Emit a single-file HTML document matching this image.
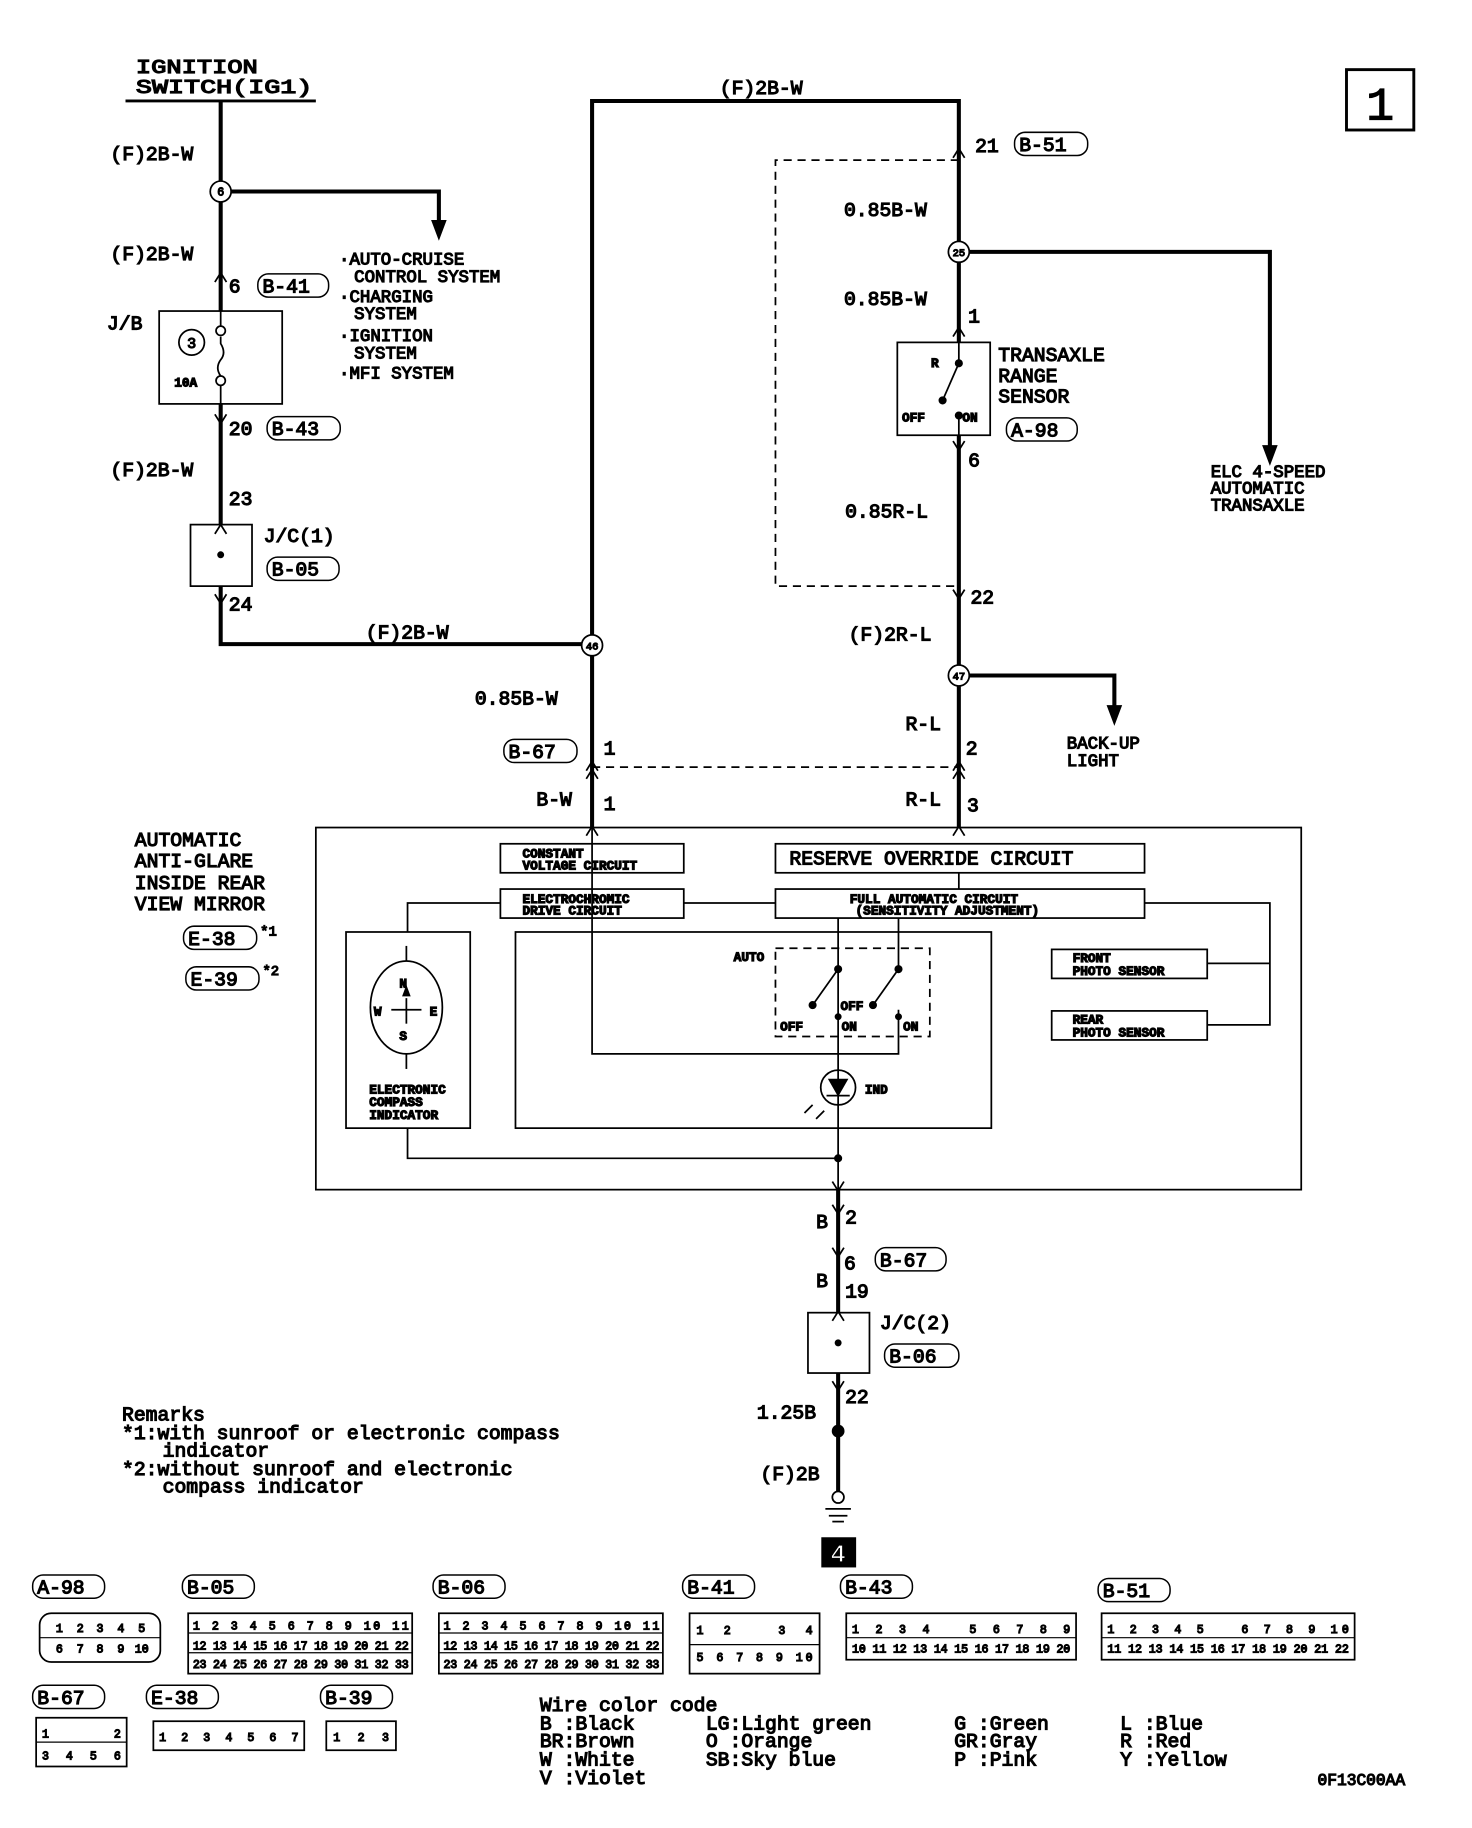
<!DOCTYPE html>
<html><head><meta charset="utf-8"><style>
html,body{margin:0;padding:0;background:#fff}
svg{display:block}
text{font-family:"Liberation Mono","DejaVu Sans Mono",monospace;fill:#000}
.t{font-size:17px}
.s{font-size:11px;font-weight:bold}
.c{font-size:10px}
</style></head><body>
<svg width="1472" height="1828" viewBox="0 0 1268 1575" xmlns="http://www.w3.org/2000/svg">
<rect width="1268" height="1575" fill="#fff"/>
<g fill="none" stroke="#000">
<!-- thick wires -->
<g stroke-width="3.5">
<line x1="190" y1="87" x2="190" y2="268"/>
<line x1="190" y1="348" x2="190" y2="452"/>
<polyline points="190,505 190,555 501,555"/>
<polyline points="510,713 510,87 826,87 826,295"/>
<line x1="826" y1="375" x2="826" y2="573"/>
<line x1="826" y1="591" x2="826" y2="713"/>
<polyline points="199,165 378,165 378,192"/>
<polyline points="835,217 1094,217 1094,386"/>
<polyline points="835,582 960,582 960,610"/>
<line x1="722" y1="1025" x2="722" y2="1131"/>
<line x1="722" y1="1183" x2="722" y2="1285"/>
</g>
<line x1="108" y1="87" x2="272" y2="87" stroke-width="2.5"/>
<!-- dashed -->
<g stroke-width="1.5" stroke-dasharray="7,5">
<polyline points="826,138 668,138 668,505 826,505"/>
<line x1="510" y1="661" x2="826" y2="661"/>
<rect x="668" y="817" width="133" height="76"/>
</g>
<!-- boxes -->
<g stroke-width="1.5">
<rect x="137" y="268" width="106" height="80"/>
<rect x="164" y="452" width="53" height="53"/>
<rect x="773" y="295" width="80" height="80"/>
<rect x="696" y="1131" width="53" height="52"/>
<rect x="272" y="713" width="849" height="312"/>
<rect x="431" y="727" width="158" height="25"/>
<rect x="668" y="727" width="318" height="25"/>
<rect x="431" y="766" width="158" height="25"/>
<rect x="668" y="766" width="318" height="25"/>
<rect x="298" y="803" width="107" height="169"/>
<rect x="444" y="803" width="410" height="169"/>
<rect x="906" y="818" width="134" height="25"/>
<rect x="906" y="871" width="134" height="25"/>
<rect x="1160" y="60" width="58" height="52" stroke-width="2.5"/>
</g>
<!-- internal thin lines -->
<g stroke-width="1.5">
<polyline points="510,713 510,908 774,908 774,870"/>
<polyline points="431,778 351,778 351,803"/>
<line x1="589" y1="778" x2="668" y2="778"/>
<line x1="826" y1="752" x2="826" y2="766"/>
<polyline points="986,778 1094,778 1094,883 1040,883"/>
<line x1="1040" y1="830" x2="1094" y2="830"/>
<polyline points="722,791 722,1025"/>
<line x1="774" y1="791" x2="774" y2="835"/>
<polyline points="351,972 351,998 722,998"/>
<line x1="722" y1="835" x2="700" y2="866"/>
<line x1="774" y1="835" x2="752" y2="866"/>
<line x1="826" y1="313" x2="812" y2="345"/>
<path d="M190,290 L190,296 q5,8 0,14 q-5,7 0,14"/>
<circle cx="190" cy="285" r="4" fill="#fff"/>
<circle cx="190" cy="328" r="4" fill="#fff"/>
<line x1="190" y1="268" x2="190" y2="281"/>
<line x1="190" y1="332" x2="190" y2="348"/>
<circle cx="165" cy="295" r="11"/>
<line x1="826" y1="295" x2="826" y2="313"/>
<line x1="826" y1="358" x2="826" y2="375"/>
<ellipse cx="350" cy="868" rx="31" ry="40"/>
<line x1="350" y1="815" x2="350" y2="828"/>
<line x1="350" y1="908" x2="350" y2="921"/>
<line x1="337" y1="870" x2="363" y2="870"/>
<line x1="350" y1="860" x2="350" y2="882"/>
<circle cx="722" cy="937" r="15"/>
<line x1="712" y1="944" x2="732" y2="944"/>
<line x1="700" y1="952" x2="693" y2="959"/>
<line x1="710" y1="957" x2="703" y2="964"/>
<circle cx="722" cy="1290" r="5" fill="#fff"/>
<line x1="711" y1="1300" x2="733" y2="1300"/>
<line x1="714" y1="1306" x2="730" y2="1306"/>
<line x1="717" y1="1311" x2="727" y2="1311"/>
<path d="M185,243 L190,235 L195,243 M185,357 L190,365 L195,357 M185,460 L190,452 L195,460 M185,512 L190,520 L195,512"/>
<path d="M821,136 L826,128 L831,136 M821,290 L826,282 L831,290 M821,380 L826,388 L831,380 M821,508 L826,516 L831,508"/>
<path d="M505,664 L510,656 L515,664 M505,671 L510,663 L515,671 M821,664 L826,656 L831,664 M821,671 L826,663 L831,671"/>
<path d="M505,720 L510,712 L515,720 M821,720 L826,712 L831,720 M717,1018 L722,1026 L727,1018 M717,1038 L722,1046 L727,1038 M717,1075 L722,1083 L727,1075 M717,1138 L722,1130 L727,1138 M717,1190 L722,1198 L727,1190"/>
</g>
<!-- filled bits -->
<g fill="#000">
<path d="M372,190 L384,190 L378,206 Z"/>
<path d="M1088,384 L1100,384 L1094,400 Z"/>
<path d="M954,608 L966,608 L960,624 Z"/>
<path d="M714,930 L730,930 L722,944 Z"/>
<path d="M347,858 L350,850 L353,858 Z"/>
<circle cx="190" cy="478" r="2.5"/><circle cx="722" cy="1157" r="2.5"/>
<circle cx="722" cy="998" r="3"/>
<circle cx="722" cy="1233" r="5"/>
<circle cx="722" cy="835" r="3"/><circle cx="774" cy="835" r="3"/>
<circle cx="700" cy="866" r="3"/><circle cx="752" cy="866" r="3"/>
<circle cx="722" cy="876" r="2.5"/><circle cx="774" cy="876" r="2.5"/>
<circle cx="826" cy="313" r="3"/><circle cx="812" cy="345" r="3"/><circle cx="826" cy="358" r="3"/>
<rect x="708" y="1325" width="29" height="25"/>
</g>
<g fill="#fff" stroke="#000" stroke-width="1.5">
<circle cx="190" cy="165" r="9"/><circle cx="510" cy="556" r="9"/>
<circle cx="826" cy="217" r="9"/><circle cx="826" cy="582" r="9"/>
</g>
<g font-size="9" text-anchor="middle">
<text x="190" y="168.5" font-size="10">6</text><text x="510" y="559.5">46</text>
<text x="826" y="220.5">25</text><text x="826" y="585.5">47</text>
</g>
<text x="1189" y="103" font-size="40" text-anchor="middle" font-family="Liberation Sans">1</text>
<text x="722" y="1346" font-size="22" text-anchor="middle" font-weight="bold" style="fill:#fff" font-family="Liberation Sans">4</text>
<text x="165" y="300" font-size="13" text-anchor="middle">3</text>
<g class="t">
<text x="117" y="63" textLength="105" lengthAdjust="spacingAndGlyphs">IGNITION</text>
<text x="117" y="80" textLength="152" lengthAdjust="spacingAndGlyphs">SWITCH(IG1)</text>
<text x="95" y="138">(F)2B-W</text>
<text x="95" y="224">(F)2B-W</text>
<text x="95" y="410">(F)2B-W</text>
<text x="315" y="550">(F)2B-W</text>
<text x="620" y="81">(F)2B-W</text>
<text x="197" y="252">6</text>
<text x="92" y="284">J/B</text>
<text x="197" y="375">20</text>
<text x="197" y="435">23</text>
<text x="227" y="467">J/C(1)</text>
<text x="197" y="526">24</text>
<text x="840" y="131">21</text>
<text x="727" y="186">0.85B-W</text>
<text x="727" y="263">0.85B-W</text>
<text x="834" y="278">1</text>
<text x="834" y="402">6</text>
<text x="728" y="446">0.85R-L</text>
<text x="836" y="520">22</text>
<text x="731" y="552">(F)2R-L</text>
<text x="780" y="629">R-L</text>
<text x="832" y="650">2</text>
<text x="780" y="694">R-L</text>
<text x="833" y="699">3</text>
<text x="409" y="607">0.85B-W</text>
<text x="520" y="650">1</text>
<text x="462" y="694">B-W</text>
<text x="520" y="698">1</text>
<text x="860" y="311">TRANSAXLE</text>
<text x="860" y="329">RANGE</text>
<text x="860" y="347">SENSOR</text>
<text x="116" y="729">AUTOMATIC</text>
<text x="116" y="747">ANTI-GLARE</text>
<text x="116" y="766">INSIDE REAR</text>
<text x="116" y="784">VIEW MIRROR</text>
<text x="703" y="1058">B</text><text x="728" y="1054">2</text>
<text x="727" y="1094">6</text>
<text x="703" y="1109">B</text><text x="728" y="1118">19</text>
<text x="758" y="1145">J/C(2)</text>
<text x="728" y="1209">22</text>
<text x="652" y="1222">1.25B</text>
<text x="655" y="1275">(F)2B</text>
<text x="680" y="745">RESERVE OVERRIDE CIRCUIT</text>
</g>
<g fill="none" stroke="#000" stroke-width="1.3">
<rect x="222" y="236" width="61" height="20" rx="9"/>
<rect x="230" y="359" width="63" height="20" rx="9"/>
<rect x="230" y="480" width="62" height="20" rx="9"/>
<rect x="874" y="114" width="63" height="20" rx="9"/>
<rect x="867" y="360" width="61" height="20" rx="9"/>
<rect x="434" y="637" width="63" height="20" rx="9"/>
<rect x="158" y="798" width="63" height="20" rx="9"/>
<rect x="160" y="833" width="63" height="20" rx="9"/>
<rect x="754" y="1075" width="61" height="20" rx="9"/>
<rect x="762" y="1158" width="64" height="20" rx="9"/>
</g>
<g class="t">
<text x="226" y="252">B-41</text><text x="234" y="375">B-43</text><text x="234" y="496">B-05</text>
<text x="878" y="130">B-51</text><text x="871" y="376">A-98</text><text x="438" y="653">B-67</text>
<text x="162" y="814">E-38</text><text x="164" y="849">E-39</text>
<text x="758" y="1091">B-67</text><text x="766" y="1174">B-06</text>
</g>
<text x="224" y="806" font-size="12">*1</text>
<text x="226" y="840" font-size="12">*2</text>
<g font-size="15">
<text x="292" y="228">·AUTO-CRUISE</text>
<text x="305" y="243">CONTROL SYSTEM</text>
<text x="292" y="260">·CHARGING</text>
<text x="305" y="275">SYSTEM</text>
<text x="292" y="294">·IGNITION</text>
<text x="305" y="309">SYSTEM</text>
<text x="292" y="326">·MFI SYSTEM</text>
<text x="1043" y="411">ELC 4-SPEED</text>
<text x="1043" y="425">AUTOMATIC</text>
<text x="1043" y="440">TRANSAXLE</text>
<text x="919" y="645">BACK-UP</text>
<text x="919" y="660">LIGHT</text>
</g>
<g class="s">
<text x="150" y="333">10A</text>
<text x="802" y="316">R</text>
<text x="777" y="363">OFF</text><text x="829" y="363">ON</text>
<text x="450" y="739">CONSTANT</text><text x="450" y="749">VOLTAGE CIRCUIT</text>
<text x="450" y="778">ELECTROCHROMIC</text><text x="450" y="788">DRIVE CIRCUIT</text>
<text x="732" y="778">FULL AUTOMATIC CIRCUIT</text><text x="737" y="788">(SENSITIVITY ADJUSTMENT)</text>
<text x="924" y="829">FRONT</text><text x="924" y="840">PHOTO SENSOR</text>
<text x="924" y="882">REAR</text><text x="924" y="893">PHOTO SENSOR</text>
<text x="632" y="828">AUTO</text>
<text x="672" y="888">OFF</text><text x="725" y="888">ON</text><text x="778" y="888">ON</text><text x="724" y="870">OFF</text>
<text x="745" y="942">IND</text>
<text x="318" y="942">ELECTRONIC</text><text x="318" y="953">COMPASS</text><text x="318" y="964">INDICATOR</text>
<text x="344" y="851">N</text><text x="344" y="896">S</text><text x="322" y="875">W</text><text x="370" y="875">E</text>
</g>
<g font-size="17">
<text x="105" y="1224">Remarks</text>
<text x="105" y="1240">*1:with sunroof or electronic compass</text>
<text x="140" y="1255">indicator</text>
<text x="105" y="1271">*2:without sunroof and electronic</text>
<text x="140" y="1286">compass indicator</text>
<text x="465" y="1474">Wire color code</text>
<text x="465" y="1490">B :Black</text><text x="465" y="1505">BR:Brown</text><text x="465" y="1521">W :White</text><text x="465" y="1537">V :Violet</text>
<text x="608" y="1490">LG:Light green</text><text x="608" y="1505">O :Orange</text><text x="608" y="1521">SB:Sky blue</text>
<text x="822" y="1490">G :Green</text><text x="822" y="1505">GR:Gray</text><text x="822" y="1521">P :Pink</text>
<text x="965" y="1490">L :Blue</text><text x="965" y="1505">R :Red</text><text x="965" y="1521">Y :Yellow</text>
</g>
<text x="1135" y="1538" font-size="14">0F13C00AA</text>
<g fill="none" stroke="#000" stroke-width="1.3">
<rect x="28" y="1357" width="62" height="20" rx="9"/><rect x="157" y="1357" width="62" height="20" rx="9"/>
<rect x="373" y="1357" width="62" height="20" rx="9"/><rect x="588" y="1357" width="62" height="20" rx="9"/>
<rect x="724" y="1357" width="62" height="20" rx="9"/><rect x="946" y="1360" width="62" height="20" rx="9"/>
<rect x="28" y="1452" width="62" height="20" rx="9"/><rect x="126" y="1452" width="62" height="20" rx="9"/>
<rect x="276" y="1452" width="62" height="20" rx="9"/>
</g>
<g class="t">
<text x="32" y="1373">A-98</text><text x="161" y="1373">B-05</text><text x="377" y="1373">B-06</text>
<text x="592" y="1373">B-41</text><text x="728" y="1373">B-43</text><text x="950" y="1376">B-51</text>
<text x="32" y="1468">B-67</text><text x="130" y="1468">E-38</text><text x="280" y="1468">B-39</text>
</g>
<g fill="none" stroke="#000" stroke-width="1.5">
<rect x="34" y="1390" width="104" height="42" rx="10"/>
<rect x="162" y="1390" width="193" height="52"/>
<rect x="378" y="1390" width="193" height="52"/>
<rect x="594" y="1390" width="112" height="52"/>
<rect x="729" y="1390" width="198" height="40"/>
<rect x="949" y="1390" width="218" height="40"/>
<rect x="31" y="1480" width="78" height="42"/>
<rect x="132" y="1483" width="130" height="25"/>
<rect x="281" y="1483" width="60" height="25"/>
</g>
<g class="c" text-anchor="middle">
<text x="51" y="1406">1</text><text x="69" y="1406">2</text><text x="86" y="1406">3</text><text x="104" y="1406">4</text><text x="122" y="1406">5</text>
<text x="51" y="1424">6</text><text x="69" y="1424">7</text><text x="86" y="1424">8</text><text x="104" y="1424">9</text><text x="122" y="1424">10</text>
</g>
<g font-size="10">
<text x="166" y="1404" textLength="186">1 2 3 4 5 6 7 8 9 10 11</text>
<text x="166" y="1421" textLength="186">12 13 14 15 16 17 18 19 20 21 22</text>
<text x="166" y="1437" textLength="186">23 24 25 26 27 28 29 30 31 32 33</text>
<text x="382" y="1404" textLength="186">1 2 3 4 5 6 7 8 9 10 11</text>
<text x="382" y="1421" textLength="186">12 13 14 15 16 17 18 19 20 21 22</text>
<text x="382" y="1437" textLength="186">23 24 25 26 27 28 29 30 31 32 33</text>
<text x="600" y="1408" textLength="100">1 2 &#160; 3 4</text>
<text x="600" y="1431" textLength="100">5 6 7 8 9 10</text>
<text x="734" y="1407" textLength="188">1 2 3 4 &#160; 5 6 7 8 9</text>
<text x="734" y="1424" textLength="188">10 11 12 13 14 15 16 17 18 19 20</text>
<text x="954" y="1407" textLength="208">1 2 3 4 5 &#160; 6 7 8 9 10</text>
<text x="954" y="1424" textLength="208">11 12 13 14 15 16 17 18 19 20 21 22</text>
<text x="36" y="1497" textLength="68">1 &#160; &#160; 2</text>
<text x="36" y="1516" textLength="68">3 4 5 6</text>
<text x="137" y="1500" textLength="120">1 2 3 4 5 6 7</text>
<text x="287" y="1500" textLength="48">1 2 3</text>
</g>
<g stroke="#000" stroke-width="1">
<line x1="162" y1="1407" x2="355" y2="1407"/><line x1="162" y1="1424" x2="355" y2="1424"/>
<line x1="378" y1="1407" x2="571" y2="1407"/><line x1="378" y1="1424" x2="571" y2="1424"/>
<line x1="594" y1="1417" x2="706" y2="1417"/>
<line x1="729" y1="1411" x2="927" y2="1411"/>
<line x1="949" y1="1411" x2="1167" y2="1411"/>
<line x1="31" y1="1501" x2="109" y2="1501"/>
<line x1="34" y1="1411" x2="138" y2="1411"/>
</g>
</svg>
</body></html>
